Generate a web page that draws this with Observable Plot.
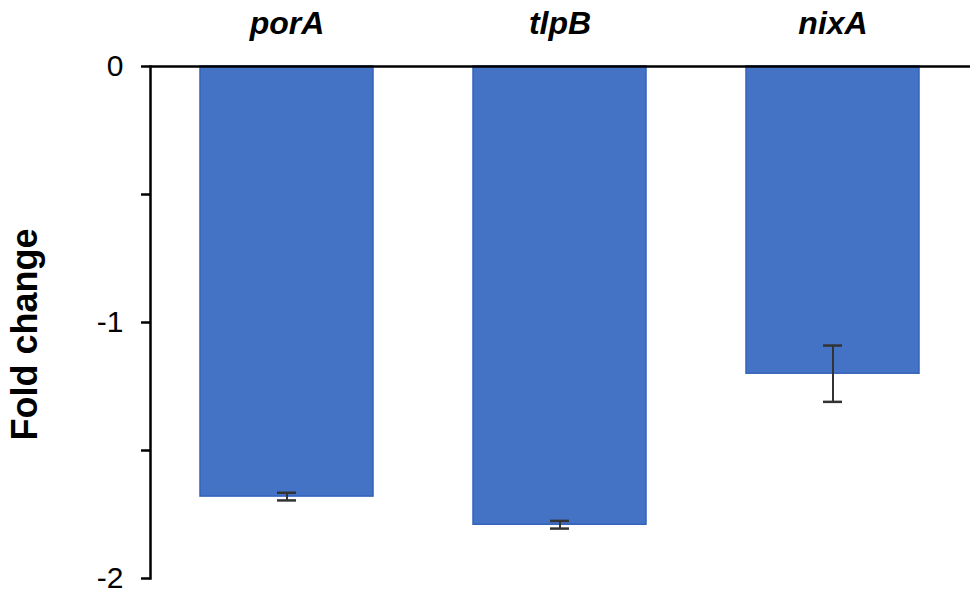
<!DOCTYPE html>
<html>
<head>
<meta charset="utf-8">
<script src="https://cdn.jsdelivr.net/npm/d3@7"></script>
<script src="https://cdn.jsdelivr.net/npm/@observablehq/plot@0.6"></script>
<style>
  html, body { margin: 0; padding: 0; background: #fff; }
  #chart svg { font-family: Arial, "Liberation Sans", sans-serif; }
  #chart [aria-label="x-axis tick label"] text { font-weight: bold; font-style: italic; }
</style>
</head>
<body>
<div id="chart"></div>
<script>
const genes = ["porA", "tlpB", "nixA"];
const foldChange = [-1.68, -1.79, -1.20];
const errors = [0.015, 0.015, 0.11];
const yTicks = [0, -0.5, -1, -1.5, -2];
const yLabel = "Fold change";

const data = genes.map((g, i) => ({gene: g, value: foldChange[i], err: errors[i]}));

const chart = Plot.plot({
  width: 975,
  height: 598,
  marginLeft: 150,
  marginRight: 5,
  marginTop: 66,
  marginBottom: 20,
  x: {domain: genes, paddingInner: 0.366, paddingOuter: 0.183, axis: null},
  y: {domain: [-2, 0], axis: null},
  marks: [
    Plot.barY(data, {x: "gene", y: "value", fill: "#4472C4", stroke: "#3563BC", strokeWidth: 1.5}),
    Plot.ruleY([0], {stroke: "#000", strokeWidth: 2.5}),
    Plot.frame({anchor: "left", stroke: "#000", strokeWidth: 2.5}),
    Plot.axisY({ticks: yTicks, tickFormat: d => Number.isInteger(d) ? String(d) : "", tickSize: 9, tickPadding: 18, fontSize: 30, strokeWidth: 2.5, color: "#000", label: null}),
    Plot.axisX({anchor: "top", tickSize: 0, tickPadding: 33, fontSize: 32, color: "#000", label: null}),
    Plot.text([yLabel], {frameAnchor: "left", textAnchor: "middle", dx: -125, dy: 12, rotate: -90, fontSize: 36, fontWeight: "bold", fill: "#000"}),
    Plot.ruleX(data, {x: "gene", y1: d => d.value - d.err, y2: d => d.value + d.err, stroke: "#333", strokeWidth: 2}),
    Plot.tickY(data, {x: "gene", y: d => d.value - d.err, stroke: "#333", strokeWidth: 2.5, insetLeft: 77, insetRight: 77}),
    Plot.tickY(data, {x: "gene", y: d => d.value + d.err, stroke: "#333", strokeWidth: 2.5, insetLeft: 77, insetRight: 77})
  ]
});
document.getElementById("chart").appendChild(chart);
</script>
</body>
</html>
